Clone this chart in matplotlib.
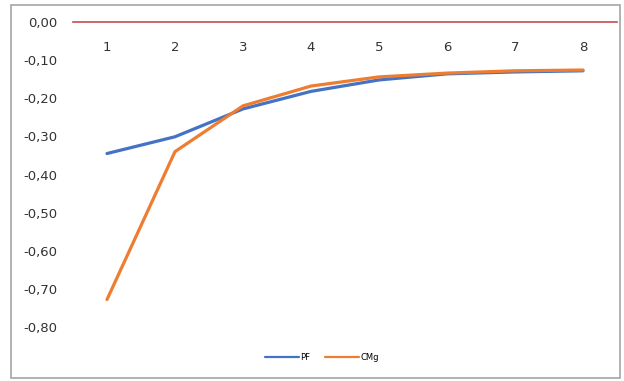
import matplotlib
matplotlib.use("Agg")
import matplotlib.pyplot as plt
from matplotlib.patches import Rectangle
from matplotlib.ticker import FuncFormatter

# dados
categorias = [1, 2, 3, 4, 5, 6, 7, 8]
pf = [-0.345, -0.301, -0.228, -0.182, -0.152, -0.136, -0.131, -0.128]
cmg = [-0.728, -0.340, -0.220, -0.168, -0.144, -0.134, -0.128, -0.126]
y_ticks = [0.0, -0.1, -0.2, -0.3, -0.4, -0.5, -0.6, -0.7, -0.8]

fig = plt.figure(figsize=(6.24, 3.81), dpi=100)
ax = fig.add_axes([73/624, 1 - 327/381, (617 - 73)/624, (327 - 22)/381])

ax.plot(categorias, pf, color='#4472C4', lw=2.3, label='PF', solid_capstyle='round')
ax.plot(categorias, cmg, color='#ED7D31', lw=2.3, label='CMg', solid_capstyle='round')

ax.set_xlim(0.5, 8.5)
ax.set_ylim(-0.8, 0.0)
ax.set_yticks(y_ticks)
ax.yaxis.set_major_formatter(FuncFormatter(lambda v, p: f"{v:.2f}".replace('.', ',')))
ax.set_xticks(categorias)

# eixo das categorias em cima (linha vermelha no zero), rótulos por dentro
ax.xaxis.tick_top()
ax.tick_params(axis='x', length=0, pad=-23, labelsize=9.5, colors='#333333')
ax.tick_params(axis='y', length=0, pad=11, labelsize=9.5, colors='#333333')
for s in ['left', 'right', 'bottom']:
    ax.spines[s].set_visible(False)
ax.spines['top'].set_color('#C0504D')
ax.spines['top'].set_linewidth(1.2)

leg = ax.legend(loc='center', bbox_to_anchor=(322/624, 1 - 357/381), bbox_transform=fig.transFigure,
                ncol=2, frameon=False, fontsize=6, handlelength=4.0, handletextpad=0.2,
                columnspacing=1.8)
for h in leg.get_lines():
    h.set_linewidth(1.6)

# borda externa do gráfico
fig.patches.append(Rectangle((11/624, 1 - 378/381), (620 - 11)/624, (378 - 5)/381,
                             transform=fig.transFigure, fill=False,
                             edgecolor='#A6A6A6', lw=1.2))

fig.savefig('out.png', dpi=100)
